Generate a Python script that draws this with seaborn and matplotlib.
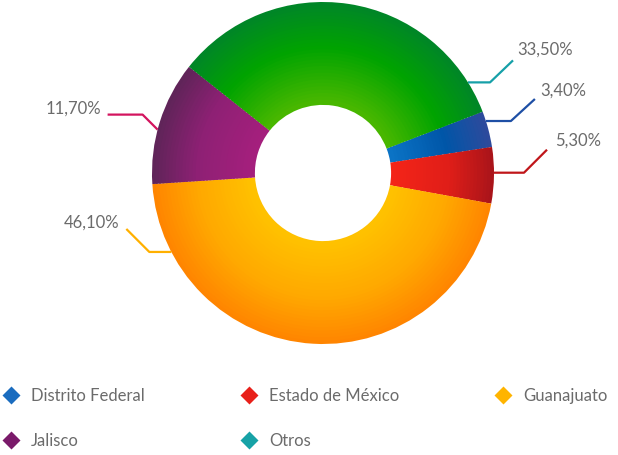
import numpy as np
import matplotlib
matplotlib.use("Agg")
import matplotlib.pyplot as plt
from matplotlib.colors import to_rgb
from matplotlib.lines import Line2D
import seaborn as sns

# ---- data ---------------------------------------------------------------------
categories = ["Distrito Federal", "Estado de México", "Guanajuato", "Jalisco", "Otros"]
shares = [3.4, 5.3, 46.1, 11.7, 33.5]

# ---- styles -------------------------------------------------------------------
# radial gradient stops per slice: outer, middle, inner
slice_stops = [
    ["#2f4a9c", "#0056a8", "#0b74c6"],
    ["#a8141a", "#e01e18", "#f42418"],
    ["#ff8400", "#ffa800", "#ffc200"],
    ["#5e2458", "#8e2074", "#a51f7d"],
    ["#008528", "#00a300", "#4ab800"],
]
legend_colors = ["#1a6cbf", "#e8201a", "#ffb400", "#7a1a6a", "#17a2a6"]
leader_colors = ["#1e4fa5", "#c0161a", "#ffb000", "#d3145e", "#16a0a8"]

# leader layout in pixels: anchor angle on outer edge, segments walked outwards,
# text offset from the last point and alignment
leader_angle = [17.7, 0.1, 207.5, 165.3, 32.0]
leader_segs = [
    [(25, 0), (24, 22)],
    [(30, 0), (23, 23)],
    [(-22, 0), (-23, 23)],
    [(-15, 15), (-35, 0)],
    [(22, 0), (23, 22)],
]
text_off = [(5, 8), (8, 9), (-7, 6), (-6, 6), (4, 11)]
text_ha = ["left", "left", "right", "right", "left"]

W, H = 618, 455
CX, CY, R = 323, 173, 171      # pie center / radius in pixels (y from top)
HOLE = 0.41
GREY = "#6b6b6b"

sns.set_theme(style="white")
plt.rcParams["font.family"] = ["Lato", "DejaVu Sans"]

fig = plt.figure(figsize=(W / 100, H / 100), dpi=100)
ax = fig.add_axes([0, 0, 1, 1])
ax.axis("off")


def blend(stops, t):
    # t = 0 outer, 1 inner
    a, b, c = (np.array(to_rgb(s)) for s in stops)
    if t < 0.45:
        return tuple(a + (b - a) * (t / 0.45))
    return tuple(b + (c - b) * ((t - 0.45) / 0.55))


# donut drawn as thin concentric rings to fake the radial shading
n_rings = 30
ring_w = (1 - HOLE) / n_rings
for k in range(n_rings):
    t = (k + 0.5) / n_rings
    cols = [blend(s, t) for s in slice_stops]
    ax.pie(shares, radius=1 - k * ring_w, colors=cols, startangle=21,
           counterclock=False,
           wedgeprops=dict(width=ring_w * 1.6, edgecolor="none", linewidth=0))
ax.set_xlim(-CX / R, (W - CX) / R)
ax.set_ylim(-(H - CY) / R, CY / R)
ax.set_aspect("auto")

# leader lines + value labels
for i, v in enumerate(shares):
    a = np.deg2rad(leader_angle[i])
    pts = [(np.cos(a), np.sin(a))]
    for dx, dy in leader_segs[i]:
        x0, y0 = pts[-1]
        pts.append((x0 + dx / R, y0 + dy / R))
    xs, ys = zip(*pts)
    ax.plot(xs, ys, color=leader_colors[i], lw=1.6, solid_capstyle="butt")
    ox, oy = text_off[i]
    ax.text(xs[-1] + ox / R, ys[-1] + oy / R, f"{v:.2f}%".replace(".", ","),
            ha=text_ha[i], va="center", fontsize=12, color=GREY)

# legend with diamond markers; matplotlib fills columns first, so reorder
# to read row by row like the reference (3 per row)
handles = [Line2D([], [], marker="D", ls="none", ms=9, color=c, mec="none")
           for c in legend_colors]
order = [0, 3, 1, 4, 2]
fig.legend([handles[i] for i in order], [categories[i] for i in order],
           loc="upper left", ncol=3, mode="expand",
           bbox_to_anchor=(-0.006, 0.0, 1.0, 0.162), frameon=False, fontsize=12,
           labelcolor=GREY, handlelength=1.0, handletextpad=0.7,
           labelspacing=1.75, borderaxespad=0.0)

fig.savefig("out.png", dpi=100)
